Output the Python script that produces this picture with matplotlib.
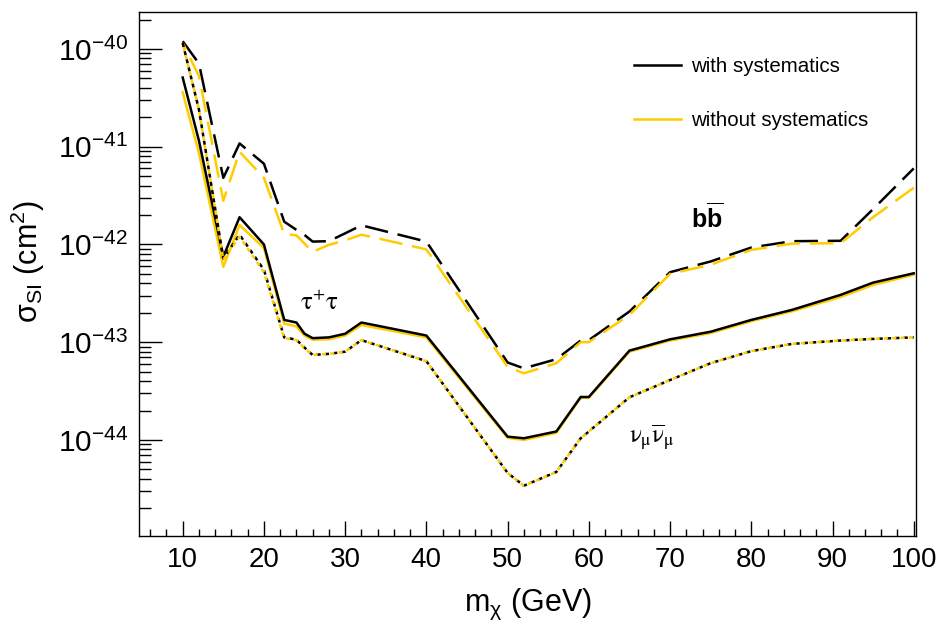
import matplotlib
matplotlib.use("Agg")
import matplotlib.pyplot as plt
from matplotlib import font_manager as fm
from matplotlib.ticker import LogLocator, FixedLocator, MultipleLocator, NullFormatter

# masses (GeV)
masses = [10, 12, 15, 17, 20, 22.5, 24, 25, 26, 28, 30, 32, 40, 50, 52, 56,
          59, 60, 65, 70, 75, 80, 85, 91, 95, 100]

# b bbar
bb_syst = [1.2e-40, 7.1e-41, 4.8e-42, 1.08e-41, 6.7e-42, 1.71e-42, 1.41e-42, 1.25e-42,
           1.07e-42, 1.08e-42, 1.30e-42, 1.57e-42, 1.07e-42, 6.2e-44, 5.4e-44, 6.7e-44,
           1.04e-43, 1.05e-43, 2.06e-43, 5.2e-43, 6.7e-43, 9.3e-43, 1.08e-42, 1.09e-42,
           2.3e-42, 6.0e-42]
bb_nosyst = [1.15e-40, 5.3e-41, 2.8e-42, 8.9e-42, 4.8e-42, 1.28e-42, 1.24e-42, 1.02e-42,
             8.4e-43, 9.9e-43, 1.1e-42, 1.26e-42, 8.9e-43, 5.6e-44, 4.8e-44, 6.1e-44,
             1.0e-43, 1.0e-43, 1.9e-43, 5.0e-43, 6.2e-43, 8.8e-43, 1.02e-42, 1.03e-42,
             1.9e-42, 3.8e-42]

# tau+ tau-
tau_syst = [5.1e-41, 1.15e-41, 7.5e-43, 1.9e-42, 1.0e-42, 1.69e-43, 1.59e-43, 1.22e-43,
            1.10e-43, 1.12e-43, 1.22e-43, 1.59e-43, 1.17e-43, 1.08e-44, 1.04e-44, 1.22e-44,
            2.75e-44, 2.75e-44, 8.2e-44, 1.07e-43, 1.28e-43, 1.69e-43, 2.14e-43, 3.05e-43,
            4.07e-43, 5.07e-43]
tau_nosyst = [3.6e-41, 8.6e-42, 5.9e-43, 1.58e-42, 9.2e-43, 1.55e-43, 1.45e-43, 1.17e-43,
              1.06e-43, 1.07e-43, 1.17e-43, 1.50e-43, 1.12e-43, 1.05e-44, 1.0e-44, 1.18e-44,
              2.7e-44, 2.7e-44, 8.0e-44, 1.04e-43, 1.24e-43, 1.64e-43, 2.07e-43, 2.9e-43,
              3.85e-43, 4.9e-43]

# nu_mu nubar_mu
nu_syst = [1.15e-40, 2.4e-41, 7.2e-43, 1.26e-42, 5.5e-43, 1.12e-43, 1.06e-43, 8.8e-44,
           7.4e-44, 7.6e-44, 8.0e-44, 1.05e-43, 6.4e-44, 4.6e-45, 3.4e-45, 4.7e-45,
           1.04e-44, 1.22e-44, 2.73e-44, 4.1e-44, 6.1e-44, 8.1e-44, 9.6e-44, 1.04e-43,
           1.08e-43, 1.12e-43]
nu_nosyst = [1.15e-40, 2.4e-41, 7.0e-43, 1.2e-42, 5.2e-43, 1.10e-43, 1.05e-43, 8.7e-44,
             7.4e-44, 7.6e-44, 8.0e-44, 1.05e-43, 6.4e-44, 4.6e-45, 3.4e-45, 4.7e-45,
             1.04e-44, 1.22e-44, 2.73e-44, 4.1e-44, 6.1e-44, 8.1e-44, 9.6e-44, 1.04e-43,
             1.08e-43, 1.12e-43]

# decadas com rotulo no eixo y
y_decadas = [1e-44, 1e-43, 1e-42, 1e-41, 1e-40]

gold = '#ffcc00'

plt.rcParams['font.family'] = ['Liberation Sans', 'DejaVu Sans']
plt.rcParams['mathtext.fontset'] = 'custom'
plt.rcParams['mathtext.rm'] = 'Liberation Sans'
plt.rcParams['mathtext.it'] = 'Liberation Sans:italic'
plt.rcParams['mathtext.bf'] = 'Liberation Sans:bold'
plt.rcParams['mathtext.default'] = 'regular'
plt.rcParams['lines.scale_dashes'] = False

nomes = {f.name for f in fm.fontManager.ttflist}
fonte_x = 'Liberation Sans Narrow' if 'Liberation Sans Narrow' in nomes else 'Liberation Sans'

fig = plt.figure(figsize=(9.39, 6.26), dpi=100)
ax = fig.add_axes([139 / 939, 1 - 536 / 626, 777 / 939, 524 / 626])

lw = 1.8
longo = (17, 7)
curto = (3, 3)

# b bbar (tracejado longo)
ax.plot(masses, bb_syst, color='black', lw=lw, linestyle=(0, longo))
ax.plot(masses, bb_nosyst, color=gold, lw=lw, linestyle=(12, longo))
# tau (continuo)
ax.plot(masses, tau_nosyst, color=gold, lw=lw)
ax.plot(masses, tau_syst, color='black', lw=lw)
# nu (pontilhado)
ax.plot(masses, nu_syst, color='black', lw=lw, linestyle=(0, curto))
ax.plot(masses, nu_nosyst, color=gold, lw=lw, linestyle=(3, curto))

# legenda so com linhas continuas
h1, = ax.plot([], [], color='black', lw=lw, label='with systematics')
h2, = ax.plot([], [], color=gold, lw=lw, label='without systematics')
ax.legend(handles=[h1, h2], loc='center left', bbox_to_anchor=(0.637, 0.844),
          frameon=False, fontsize=14.8, handlelength=2.3, handletextpad=0.5,
          labelspacing=1.7, borderpad=0, borderaxespad=0)

ax.set_yscale('log')
ax.set_xlim(4.62, 100.28)
ax.set_ylim(1.04e-45, 2.39e-40)

ax.yaxis.set_major_locator(FixedLocator(y_decadas))
ax.yaxis.set_minor_locator(LogLocator(base=10, subs=range(2, 10), numticks=20))
ax.yaxis.set_minor_formatter(NullFormatter())
ax.xaxis.set_major_locator(MultipleLocator(10))
ax.xaxis.set_minor_locator(MultipleLocator(2))

ax.tick_params(axis='y', which='major', direction='in', length=16.5, width=1,
               labelsize=21.5, pad=8, right=False)
ax.tick_params(axis='y', which='minor', direction='in', length=8.3, width=1, right=False)
ax.tick_params(axis='x', which='major', direction='in', length=11, width=1,
               labelsize=20, pad=8, top=False)
ax.tick_params(axis='x', which='minor', direction='in', length=5.3, width=1, top=False)
for lab in ax.get_xticklabels():
    lab.set_family(fonte_x)
for sp in ax.spines.values():
    sp.set_linewidth(1.0)

ax.set_xlabel(r'm$_{\chi}$ (GeV)', fontsize=22, family=fonte_x, labelpad=10)
ax.set_ylabel(r'$\sigma_{SI}$ (cm$^{2}$)', fontsize=22)
ax.yaxis.set_label_coords(-0.118, 0.523)

# rotulos dos canais
ax.text(0.232, 0.445, r'$\mathrm{\tau^{+}\tau}$', transform=ax.transAxes, fontsize=18,
        math_fontfamily='stix', ha='center', va='center')
ax.text(0.659, 0.188, r'$\mathrm{\nu_{\mu}\overline{\nu}_{\mu}}$', transform=ax.transAxes,
        fontsize=18, math_fontfamily='stix', ha='center', va='center')
ax.text(0.731, 0.607, r'$\mathbf{b\overline{b}}$', transform=ax.transAxes, fontsize=18,
        ha='center', va='center')

fig.savefig('out.png', dpi=100)
